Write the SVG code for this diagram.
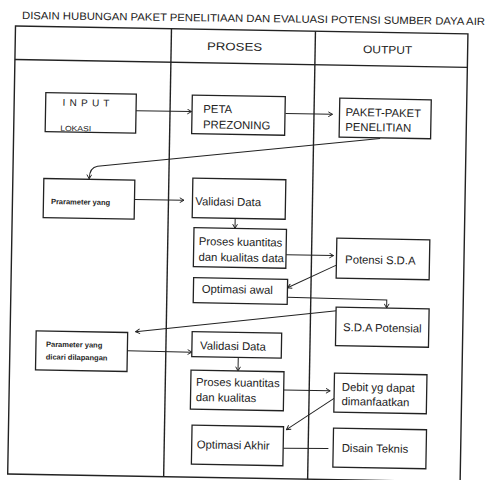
<svg xmlns="http://www.w3.org/2000/svg" width="488" height="480" viewBox="0 0 488 480">
<defs>
<style>
.t{font-family:"Liberation Sans",Arial,sans-serif;fill:#222;}
.m{font-size:11.3px;}
.s{font-size:7.5px;font-weight:bold;}
.grid{fill:none;stroke:#222;stroke-width:1.4;}
.box{fill:#fff;stroke:#222;stroke-width:1.3;}
.c{fill:none;stroke:#222;stroke-width:1;}
</style>
<marker id="arr" viewBox="0 0 10 10" refX="9" refY="5" markerWidth="6" markerHeight="6" orient="auto" markerUnits="userSpaceOnUse">
<path d="M2,1 L9,5 L2,9" fill="none" stroke="#222" stroke-width="1.6"/>
</marker>
</defs>
<rect width="488" height="480" fill="#fff"/>
<text class="t" x="22" y="19" font-size="10.5" textLength="463" lengthAdjust="spacingAndGlyphs" transform="rotate(0.75 22 19)">DISAIN HUBUNGAN PAKET PENELITIAAN DAN EVALUASI POTENSI SUMBER DAYA AIR</text>
<g transform="rotate(1 15 26)">
<g id="table">
<rect class="grid" x="15.5" y="26" width="452.5" height="448"/>
<line class="grid" x1="15.5" y1="59.5" x2="468" y2="59.5"/>
<line class="grid" x1="171.5" y1="26" x2="171.5" y2="474"/>
<line class="grid" x1="315.5" y1="26" x2="315.5" y2="474"/>
<text class="t" x="207.4" y="46.6" font-size="11" textLength="55" lengthAdjust="spacingAndGlyphs">PROSES</text>
<text class="t" x="363.5" y="47" font-size="11" textLength="49" lengthAdjust="spacingAndGlyphs">OUTPUT</text>
</g>
<g id="connectors">
<path class="c" d="M137.5,108.5 L193,108.5" marker-end="url(#arr)"/>
<path class="c" d="M287,108.8 L334,108.8" marker-end="url(#arr)"/>
<path class="c" d="M382,132 L100,164.8 Q92,166 91.8,177.5" marker-end="url(#arr)"/>
<path class="c" d="M137.5,197.3 L187,197.3" marker-end="url(#arr)"/>
<path class="c" d="M238.5,214.6 L238.5,224.5" marker-end="url(#arr)"/>
<path class="c" d="M290,250 L337.5,250" marker-end="url(#arr)"/>
<path class="c" d="M340.5,259.5 L292,283" marker-end="url(#arr)"/>
<path class="c" d="M292,292.5 L391.5,293.5 L391.5,301.5" marker-end="url(#arr)"/>
<path class="c" d="M341.5,305 L141,329.5" marker-end="url(#arr)"/>
<path class="c" d="M133,348.7 L197.5,349" marker-end="url(#arr)"/>
<path class="c" d="M244,353.6 L244,367" marker-end="url(#arr)"/>
<path class="c" d="M290,385.3 L336.5,385.3" marker-end="url(#arr)"/>
<path class="c" d="M340.5,392.7 L293.4,424.8" marker-end="url(#arr)"/>
<path class="c" d="M290.7,443.5 L335.7,443"/>
</g>
<g id="input">
<rect class="box" x="47" y="92" width="90.5" height="39"/>
<text class="t" x="64" y="105" font-size="10" letter-spacing="4.2">INPUT</text>
<text class="t" x="62" y="130" font-size="7.5" textLength="31" lengthAdjust="spacingAndGlyphs">LOKASI</text>
</g>
<g id="peta">
<rect class="box" x="193.5" y="92" width="93" height="38.5"/>
<text class="t m" x="204.8" y="109.4">PETA</text>
<text class="t m" x="204.8" y="125">PREZONING</text>
</g>
<g id="paket">
<rect class="box" x="341" y="92.5" width="91.5" height="39"/>
<text class="t m" x="347" y="110.2">PAKET-PAKET</text>
<text class="t m" x="347" y="124.9">PENELITIAN</text>
</g>
<g id="param1">
<rect class="box" x="46.5" y="178" width="91" height="39"/>
<text class="t s" x="54" y="203.4">Prarameter yang</text>
</g>
<g id="validasi1">
<rect class="box" x="195.5" y="175" width="93" height="39.5"/>
<text class="t m" x="198.3" y="201.9">Validasi Data</text>
</g>
<g id="proses1">
<rect class="box" x="197.5" y="224.5" width="92.5" height="39"/>
<text class="t m" x="202.5" y="241.8">Proses kuantitas</text>
<text class="t m" x="202.5" y="257.5">dan kualitas data</text>
</g>
<g id="potensi">
<rect class="box" x="340.5" y="232.5" width="93" height="40"/>
<text class="t m" x="349.2" y="257.5">Potensi S.D.A</text>
</g>
<g id="optawal">
<rect class="box" x="198" y="274.5" width="94" height="25"/>
<text class="t m" x="206.4" y="289.4">Optimasi awal</text>
</g>
<g id="sdapot">
<rect class="box" x="341" y="301.5" width="93" height="38.5"/>
<text class="t m" x="348.3" y="325.3">S.D.A Potensial</text>
</g>
<g id="param2">
<rect class="box" x="41.5" y="330.5" width="91.5" height="39"/>
<text class="t s" x="51.6" y="346.2">Parameter yang</text>
<text class="t s" x="51.6" y="358.8">dicari dilapangan</text>
</g>
<g id="validasi2">
<rect class="box" x="197.5" y="328.5" width="89.5" height="25"/>
<text class="t m" x="205.7" y="346.1">Validasi Data</text>
</g>
<g id="proses2">
<rect class="box" x="197" y="367" width="93" height="39"/>
<text class="t m" x="202.3" y="382.5">Proses kuantitas</text>
<text class="t m" x="202.3" y="397.8">dan kualitas</text>
</g>
<g id="debit">
<rect class="box" x="340.5" y="367.5" width="92.5" height="39"/>
<text class="t m" x="348.1" y="385">Debit yg dapat</text>
<text class="t m" x="348.1" y="399.3">dimanfaatkan</text>
</g>
<g id="optakhir">
<rect class="box" x="199" y="422" width="91.5" height="39"/>
<text class="t m" x="204.1" y="445.1">Optimasi Akhir</text>
</g>
<g id="disain">
<rect class="box" x="340.5" y="422.5" width="93" height="39"/>
<text class="t m" x="349.1" y="446">Disain Teknis</text>
</g>
</g>
</svg>
